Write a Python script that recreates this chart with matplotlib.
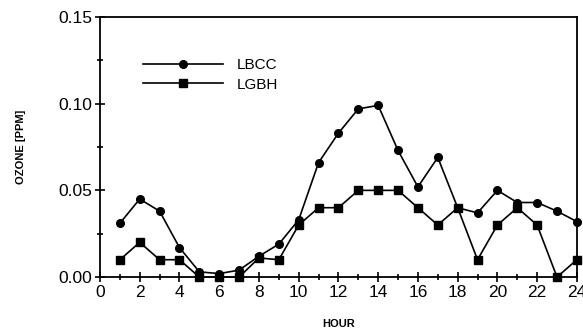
import numpy as np
import matplotlib.pyplot as plt
from matplotlib.ticker import MultipleLocator

plt.rcParams['font.family'] = ['Liberation Sans', 'DejaVu Sans']

hours = np.arange(1, 25)
lbcc = [0.031, 0.045, 0.038, 0.017, 0.003, 0.002, 0.004, 0.012, 0.019, 0.033,
        0.066, 0.083, 0.097, 0.099, 0.073, 0.052, 0.069, 0.040, 0.037, 0.050,
        0.043, 0.043, 0.038, 0.032]
lgbh = [0.010, 0.020, 0.010, 0.010, 0.000, 0.000, 0.000, 0.011, 0.010, 0.030,
        0.040, 0.040, 0.050, 0.050, 0.050, 0.040, 0.030, 0.040, 0.010, 0.030,
        0.040, 0.030, 0.000, 0.010]

fig = plt.figure(figsize=(5.83, 3.33), dpi=100)
ax = fig.add_axes([0.1715, 0.168, 0.818, 0.781])

ax.plot(hours, lbcc, color='black', lw=1.2, marker='o', ms=5.5, label='LBCC', clip_on=False)
ax.plot(hours, lgbh, color='black', lw=1.2, marker='s', ms=5.5, label='LGBH', clip_on=False)

ax.set_xlim(0, 24)
ax.set_ylim(0, 0.15)
ax.xaxis.set_major_locator(MultipleLocator(2))
ax.xaxis.set_minor_locator(MultipleLocator(1))
ax.yaxis.set_major_locator(MultipleLocator(0.05))
ax.yaxis.set_minor_locator(MultipleLocator(0.025))
ax.yaxis.set_major_formatter(plt.FormatStrFormatter('%.2f'))
ax.tick_params(which='both', direction='inout', labelsize=12.5, width=1.2)
ax.tick_params(which='major', length=7, pad=2)
ax.tick_params(which='minor', length=5)
for s in ax.spines.values():
    s.set_linewidth(1.3)

ax.set_xlabel('HOUR', fontsize=8, fontweight='bold', labelpad=14)
ax.set_ylabel('OZONE [PPM]', fontsize=8, fontweight='bold', labelpad=23)

ax.legend(loc='upper left', bbox_to_anchor=(0.062, 0.894), frameon=False,
          fontsize=11, handlelength=5.2, handletextpad=0.9, labelspacing=0.35)

fig.savefig('out.png', dpi=100)
